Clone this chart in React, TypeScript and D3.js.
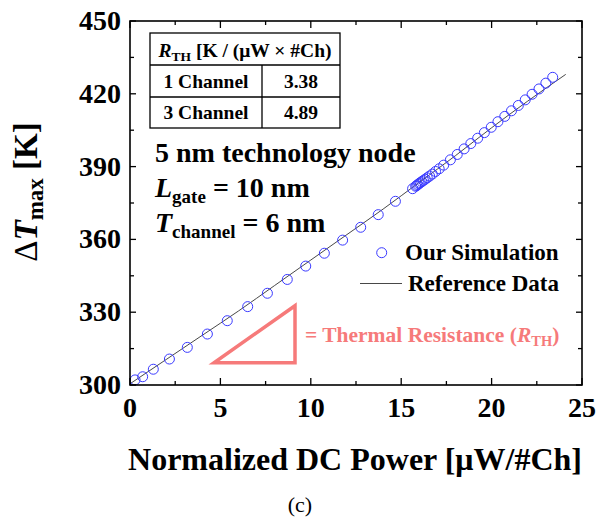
import * as d3 from 'd3'

const W = 600, H = 523
const M = { left: 130, right: 582, top: 21, bottom: 385 }
const FONT = '"Liberation Serif", "Times New Roman", serif'

// simulation points (normalized power, ΔTmax)
const simPower = [
  0.28, 0.70, 1.29, 2.18, 3.17, 4.28, 5.38, 6.51, 7.60, 8.70, 9.72, 10.75, 11.76, 12.76, 13.73, 14.68, 15.63,
  15.80, 15.86, 15.92, 15.99, 16.06, 16.14, 16.23, 16.33, 16.44, 16.57, 16.72, 16.90, 17.10,
  17.35, 17.72, 18.10, 18.48, 18.85, 19.23, 19.60, 19.98, 20.35, 20.73, 21.10, 21.48, 21.86, 22.24, 22.62, 23.00, 23.38,
]
const simTemp = [
  302.1, 303.4, 306.5, 310.7, 315.5, 321.0, 326.5, 332.3, 337.8, 343.5, 349.0, 354.3, 359.7, 365.0, 370.2, 375.7, 380.9,
  381.9, 382.2, 382.6, 383.0, 383.4, 383.8, 384.3, 384.8, 385.4, 386.1, 386.9, 388.0, 389.1,
  390.6, 392.8, 395.0, 397.3, 399.5, 401.7, 404.0, 406.2, 408.5, 410.7, 413.0, 415.2, 417.5, 419.8, 422.0, 424.4, 426.8,
]

// reference curve
const refPower = [0, 2, 4, 6, 8, 10, 12, 14, 16, 18, 20, 22, 24.1]
const refTemp = [300.5, 310.5, 320.5, 330.5, 341.0, 351.5, 362.0, 372.5, 383.5, 394.5, 406.0, 417.0, 428.0]

const xTicks = [0, 5, 10, 15, 20, 25]
const yTicks = [300, 330, 360, 390, 420, 450]

const tableRows = [['1 Channel', '3.38'], ['3 Channel', '4.89']]

const x = d3.scaleLinear([0, 25], [M.left, M.right])
const y = d3.scaleLinear([300, 450], [M.bottom, M.top])

export default function App() {
  const sim = simPower.map((p, i) => ({ p, t: simTemp[i] }))
  const ref = refPower.map((p, i) => ({ p, t: refTemp[i] }))
  const line = d3.line<{ p: number; t: number }>().x(d => x(d.p)).y(d => y(d.t)).curve(d3.curveMonotoneX)

  const xMinor = d3.range(0, 25.01, 2.5)
  const yMinor = d3.range(300, 450.01, 15)
  const isMajorX = (v: number) => Math.abs(v % 5) < 1e-6
  const isMajorY = (v: number) => Math.abs(v % 30) < 1e-6

  const pink = '#f67a7a'
  const blue = '#3a3aff'

  return (
    <svg width={W} height={H} style={{ position: 'absolute', left: 0, top: 0 }} fontFamily={FONT}>
      <rect width={W} height={H} fill="white" />

      {/* reference line */}
      <path d={line(ref) ?? ''} fill="none" stroke="#333" strokeWidth={0.9} />

      {/* simulation circles */}
      {sim.map((d, i) => (
        <circle key={i} cx={x(d.p)} cy={y(d.t)} r={5} fill="none" stroke={blue} strokeWidth={1} />
      ))}

      {/* frame */}
      <rect x={M.left} y={M.top} width={M.right - M.left} height={M.bottom - M.top} fill="none" stroke="black" strokeWidth={1.6} />

      {/* ticks, inward on all four sides */}
      {xMinor.map(v => {
        const len = isMajorX(v) ? 7 : 4
        return (
          <g key={'xt' + v} stroke="black" strokeWidth={1.3}>
            <line x1={x(v)} x2={x(v)} y1={M.bottom} y2={M.bottom - len} />
            <line x1={x(v)} x2={x(v)} y1={M.top} y2={M.top + len} />
          </g>
        )
      })}
      {yMinor.map(v => {
        const len = isMajorY(v) ? 6 : 4
        return (
          <g key={'yt' + v} stroke="black" strokeWidth={1.3}>
            <line x1={M.left} x2={M.left + len} y1={y(v)} y2={y(v)} />
            <line x1={M.right} x2={M.right - len} y1={y(v)} y2={y(v)} />
          </g>
        )
      })}

      {/* tick labels */}
      {xTicks.map(v => (
        <text key={'xl' + v} x={x(v)} y={417} textAnchor="middle" fontSize={28} fontWeight="bold">{v}</text>
      ))}
      {yTicks.map(v => (
        <text key={'yl' + v} x={121} y={y(v) + 9} textAnchor="end" fontSize={28} fontWeight="bold">{v}</text>
      ))}

      {/* axis titles */}
      <text x={355} y={470} textAnchor="middle" fontSize={32} fontWeight="bold">Normalized DC Power [μW/#Ch]</text>
      <text transform="translate(37,192) rotate(-90)" textAnchor="middle" fontSize={33} fontWeight="bold">
        <tspan fontWeight="normal">Δ</tspan>
        <tspan fontStyle="italic">T</tspan>
        <tspan fontSize={23} dy={6}>max</tspan>
        <tspan dy={-6}> [K]</tspan>
      </text>
      <text x={300} y={512} textAnchor="middle" fontSize={22}>(c)</text>

      {/* table */}
      <g stroke="black" strokeWidth={1.3} fill="none">
        <rect x={150} y={33} width={190} height={95} />
        <line x1={150} x2={340} y1={65} y2={65} />
        <line x1={150} x2={340} y1={97} y2={97} />
        <line x1={262} x2={262} y1={65} y2={128} />
      </g>
      <text x={245} y={57} textAnchor="middle" fontSize={19.5} fontWeight="bold">
        <tspan fontStyle="italic">R</tspan>
        <tspan fontSize={13.5} dy={4}>TH</tspan>
        <tspan dy={-4}> [K / (μW × #Ch)</tspan>
      </text>
      {tableRows.map((r, i) => (
        <g key={r[0]} fontSize={19.5} fontWeight="bold" textAnchor="middle">
          <text x={206} y={88 + i * 31}>{r[0]}</text>
          <text x={301} y={88 + i * 31}>{r[1]}</text>
        </g>
      ))}

      {/* annotation */}
      <g fontSize={28} fontWeight="bold">
        <text x={155} y={162}>5 nm technology node</text>
        <text x={155} y={197}>
          <tspan fontStyle="italic">L</tspan>
          <tspan fontSize={19} dy={6}>gate</tspan>
          <tspan dy={-6}> = 10 nm</tspan>
        </text>
        <text x={155} y={232}>
          <tspan fontStyle="italic">T</tspan>
          <tspan fontSize={19} dy={6}>channel</tspan>
          <tspan dy={-6}> = 6 nm</tspan>
        </text>
      </g>

      {/* legend */}
      <circle cx={381.7} cy={252.7} r={5} fill="none" stroke={blue} strokeWidth={1} />
      <text x={405} y={260} fontSize={23} fontWeight="bold">Our Simulation</text>
      <line x1={360} x2={402} y1={283.5} y2={283.5} stroke="#333" strokeWidth={0.9} />
      <text x={408} y={291} fontSize={23} fontWeight="bold">Reference Data</text>

      {/* thermal resistance triangle */}
      <path d="M214,362.7 L295,362.7 L295,305.7 Z" fill="none" stroke={pink} strokeWidth={3.5} strokeLinejoin="miter" />
      <text x={305} y={342} fontSize={21.5} fontWeight="bold" fill={pink}>
        = Thermal Resistance (<tspan fontStyle="italic">R</tspan>
        <tspan fontSize={14.5} dy={4}>TH</tspan>
        <tspan dy={-4}>)</tspan>
      </text>
    </svg>
  )
}
